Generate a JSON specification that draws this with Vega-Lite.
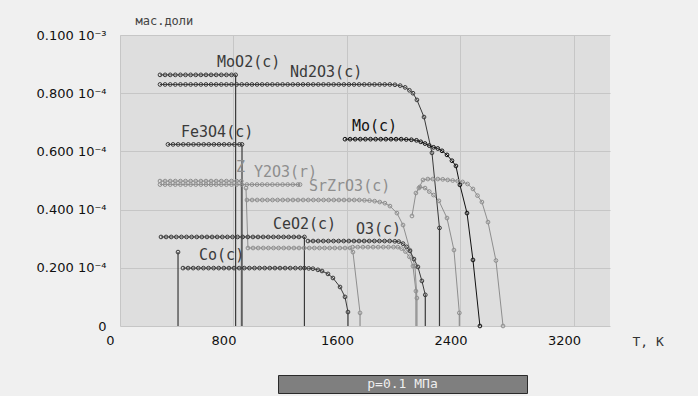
{
"$schema": "https://vega.github.io/schema/vega-lite/v6.json",
"background": "#f0f0f0",
"padding": {"left": 36, "top": 14, "right": 34, "bottom": 3},
"bounds": "flush",
"spacing": 49,
"config": {"font": "DejaVu Sans", "view": {"stroke": null}, "axis": {"domain": false, "ticks": false, "gridColor": "#c6c6c6", "gridWidth": 1, "labelColor": "#111111", "labelFontSize": 13}},
"datasets": {
"curves": [
{"s":"ZrO2(c)","T":282,"v":4.98},{"s":"ZrO2(c)","T":318,"v":4.98},{"s":"ZrO2(c)","T":354,"v":4.98},{"s":"ZrO2(c)","T":390,"v":4.98},{"s":"ZrO2(c)","T":426,"v":4.98},{"s":"ZrO2(c)","T":462,"v":4.98},{"s":"ZrO2(c)","T":498,"v":4.98},{"s":"ZrO2(c)","T":534,"v":4.98},{"s":"ZrO2(c)","T":570,"v":4.98},{"s":"ZrO2(c)","T":606,"v":4.98},{"s":"ZrO2(c)","T":642,"v":4.98},{"s":"ZrO2(c)","T":678,"v":4.98},{"s":"ZrO2(c)","T":714,"v":4.98},{"s":"ZrO2(c)","T":750,"v":4.98},{"s":"ZrO2(c)","T":786,"v":4.98},{"s":"ZrO2(c)","T":822,"v":4.98},{"s":"ZrO2(c)","T":855,"v":4.98},
{"s":"Y2O3(r)","T":282,"v":4.86},{"s":"Y2O3(r)","T":318,"v":4.86},{"s":"Y2O3(r)","T":354,"v":4.86},{"s":"Y2O3(r)","T":390,"v":4.86},{"s":"Y2O3(r)","T":426,"v":4.86},{"s":"Y2O3(r)","T":462,"v":4.86},{"s":"Y2O3(r)","T":498,"v":4.86},{"s":"Y2O3(r)","T":534,"v":4.86},{"s":"Y2O3(r)","T":570,"v":4.86},{"s":"Y2O3(r)","T":606,"v":4.86},{"s":"Y2O3(r)","T":642,"v":4.86},{"s":"Y2O3(r)","T":678,"v":4.86},{"s":"Y2O3(r)","T":714,"v":4.86},{"s":"Y2O3(r)","T":750,"v":4.86},{"s":"Y2O3(r)","T":786,"v":4.86},{"s":"Y2O3(r)","T":822,"v":4.86},{"s":"Y2O3(r)","T":858,"v":4.86},{"s":"Y2O3(r)","T":894,"v":4.86},{"s":"Y2O3(r)","T":930,"v":4.86},{"s":"Y2O3(r)","T":966,"v":4.86},{"s":"Y2O3(r)","T":1002,"v":4.86},{"s":"Y2O3(r)","T":1038,"v":4.86},{"s":"Y2O3(r)","T":1074,"v":4.86},{"s":"Y2O3(r)","T":1110,"v":4.86},{"s":"Y2O3(r)","T":1146,"v":4.86},{"s":"Y2O3(r)","T":1182,"v":4.86},{"s":"Y2O3(r)","T":1218,"v":4.86},{"s":"Y2O3(r)","T":1254,"v":4.86},{"s":"Y2O3(r)","T":1269,"v":4.86},
{"s":"SrZrO3(c)","T":895,"v":4.33},{"s":"SrZrO3(c)","T":931,"v":4.33},{"s":"SrZrO3(c)","T":967,"v":4.33},{"s":"SrZrO3(c)","T":1003,"v":4.33},{"s":"SrZrO3(c)","T":1039,"v":4.33},{"s":"SrZrO3(c)","T":1075,"v":4.33},{"s":"SrZrO3(c)","T":1111,"v":4.33},{"s":"SrZrO3(c)","T":1147,"v":4.33},{"s":"SrZrO3(c)","T":1183,"v":4.33},{"s":"SrZrO3(c)","T":1219,"v":4.33},{"s":"SrZrO3(c)","T":1255,"v":4.33},{"s":"SrZrO3(c)","T":1291,"v":4.33},{"s":"SrZrO3(c)","T":1327,"v":4.33},{"s":"SrZrO3(c)","T":1363,"v":4.33},{"s":"SrZrO3(c)","T":1399,"v":4.33},{"s":"SrZrO3(c)","T":1435,"v":4.33},{"s":"SrZrO3(c)","T":1471,"v":4.33},{"s":"SrZrO3(c)","T":1507,"v":4.33},{"s":"SrZrO3(c)","T":1543,"v":4.33},{"s":"SrZrO3(c)","T":1579,"v":4.33},{"s":"SrZrO3(c)","T":1615,"v":4.33},{"s":"SrZrO3(c)","T":1651,"v":4.33},{"s":"SrZrO3(c)","T":1687,"v":4.33},{"s":"SrZrO3(c)","T":1723,"v":4.32},{"s":"SrZrO3(c)","T":1759,"v":4.31},{"s":"SrZrO3(c)","T":1795,"v":4.29},{"s":"SrZrO3(c)","T":1831,"v":4.26},{"s":"SrZrO3(c)","T":1867,"v":4.22},{"s":"SrZrO3(c)","T":1903,"v":4.12},{"s":"SrZrO3(c)","T":1952,"v":3.88},{"s":"SrZrO3(c)","T":1995,"v":3.47},{"s":"SrZrO3(c)","T":2044,"v":2.61},{"s":"SrZrO3(c)","T":2079,"v":2.06},{"s":"SrZrO3(c)","T":2093,"v":0.96},
{"s":"g4","T":888,"v":4.74},{"s":"g4","T":902,"v":2.68},{"s":"g4","T":938,"v":2.68},{"s":"g4","T":974,"v":2.68},{"s":"g4","T":1010,"v":2.68},{"s":"g4","T":1046,"v":2.68},{"s":"g4","T":1082,"v":2.68},{"s":"g4","T":1118,"v":2.68},{"s":"g4","T":1154,"v":2.68},{"s":"g4","T":1190,"v":2.68},{"s":"g4","T":1226,"v":2.68},{"s":"g4","T":1262,"v":2.68},{"s":"g4","T":1298,"v":2.68},{"s":"g4","T":1334,"v":2.68},{"s":"g4","T":1370,"v":2.68},{"s":"g4","T":1406,"v":2.68},{"s":"g4","T":1442,"v":2.68},{"s":"g4","T":1478,"v":2.68},{"s":"g4","T":1514,"v":2.68},{"s":"g4","T":1550,"v":2.68},{"s":"g4","T":1586,"v":2.68},{"s":"g4","T":1622,"v":2.68},{"s":"g4","T":1642,"v":2.54},{"s":"g4","T":1692,"v":0.45},
{"s":"g5","T":1640,"v":2.71},{"s":"g5","T":1676,"v":2.71},{"s":"g5","T":1712,"v":2.71},{"s":"g5","T":1748,"v":2.71},{"s":"g5","T":1784,"v":2.71},{"s":"g5","T":1820,"v":2.71},{"s":"g5","T":1856,"v":2.71},{"s":"g5","T":1892,"v":2.71},{"s":"g5","T":1928,"v":2.71},{"s":"g5","T":1958,"v":2.71},{"s":"g5","T":1985,"v":2.66},{"s":"g5","T":2012,"v":2.56},{"s":"g5","T":2040,"v":2.38},{"s":"g5","T":2065,"v":2.06},{"s":"g5","T":2086,"v":1.2},
{"s":"g6","T":2107,"v":4.74},{"s":"g6","T":2136,"v":5.02},{"s":"g6","T":2170,"v":5.05},{"s":"g6","T":2205,"v":5.05},{"s":"g6","T":2240,"v":5.05},{"s":"g6","T":2275,"v":5.04},{"s":"g6","T":2310,"v":5.02},{"s":"g6","T":2345,"v":5.0},{"s":"g6","T":2380,"v":4.98},{"s":"g6","T":2415,"v":4.95},{"s":"g6","T":2450,"v":4.88},{"s":"g6","T":2488,"v":4.71},{"s":"g6","T":2520,"v":4.48},{"s":"g6","T":2551,"v":4.26},{"s":"g6","T":2594,"v":3.57},{"s":"g6","T":2650,"v":2.25},{"s":"g6","T":2700,"v":0.0},
{"s":"g7","T":2058,"v":3.78},{"s":"g7","T":2086,"v":4.57},{"s":"g7","T":2114,"v":4.78},{"s":"g7","T":2150,"v":4.74},{"s":"g7","T":2180,"v":4.62},{"s":"g7","T":2210,"v":4.5},{"s":"g7","T":2248,"v":4.3},{"s":"g7","T":2305,"v":3.71},{"s":"g7","T":2354,"v":2.61},{"s":"g7","T":2392,"v":0.45},
{"s":"MoO2(c)","T":282,"v":8.63},{"s":"MoO2(c)","T":318,"v":8.63},{"s":"MoO2(c)","T":354,"v":8.63},{"s":"MoO2(c)","T":390,"v":8.63},{"s":"MoO2(c)","T":426,"v":8.63},{"s":"MoO2(c)","T":462,"v":8.63},{"s":"MoO2(c)","T":498,"v":8.63},{"s":"MoO2(c)","T":534,"v":8.63},{"s":"MoO2(c)","T":570,"v":8.63},{"s":"MoO2(c)","T":606,"v":8.63},{"s":"MoO2(c)","T":642,"v":8.63},{"s":"MoO2(c)","T":678,"v":8.63},{"s":"MoO2(c)","T":714,"v":8.63},{"s":"MoO2(c)","T":750,"v":8.63},{"s":"MoO2(c)","T":786,"v":8.63},{"s":"MoO2(c)","T":815,"v":8.63},
{"s":"Nd2O3(c)","T":282,"v":8.3},{"s":"Nd2O3(c)","T":318,"v":8.3},{"s":"Nd2O3(c)","T":354,"v":8.3},{"s":"Nd2O3(c)","T":390,"v":8.3},{"s":"Nd2O3(c)","T":426,"v":8.3},{"s":"Nd2O3(c)","T":462,"v":8.3},{"s":"Nd2O3(c)","T":498,"v":8.3},{"s":"Nd2O3(c)","T":534,"v":8.3},{"s":"Nd2O3(c)","T":570,"v":8.3},{"s":"Nd2O3(c)","T":606,"v":8.3},{"s":"Nd2O3(c)","T":642,"v":8.3},{"s":"Nd2O3(c)","T":678,"v":8.3},{"s":"Nd2O3(c)","T":714,"v":8.3},{"s":"Nd2O3(c)","T":750,"v":8.3},{"s":"Nd2O3(c)","T":786,"v":8.3},{"s":"Nd2O3(c)","T":822,"v":8.3},{"s":"Nd2O3(c)","T":858,"v":8.3},{"s":"Nd2O3(c)","T":894,"v":8.3},{"s":"Nd2O3(c)","T":930,"v":8.3},{"s":"Nd2O3(c)","T":966,"v":8.3},{"s":"Nd2O3(c)","T":1002,"v":8.3},{"s":"Nd2O3(c)","T":1038,"v":8.3},{"s":"Nd2O3(c)","T":1074,"v":8.3},{"s":"Nd2O3(c)","T":1110,"v":8.3},{"s":"Nd2O3(c)","T":1146,"v":8.3},{"s":"Nd2O3(c)","T":1182,"v":8.3},{"s":"Nd2O3(c)","T":1218,"v":8.3},{"s":"Nd2O3(c)","T":1254,"v":8.3},{"s":"Nd2O3(c)","T":1290,"v":8.3},{"s":"Nd2O3(c)","T":1326,"v":8.3},{"s":"Nd2O3(c)","T":1362,"v":8.3},{"s":"Nd2O3(c)","T":1398,"v":8.3},{"s":"Nd2O3(c)","T":1434,"v":8.3},{"s":"Nd2O3(c)","T":1470,"v":8.3},{"s":"Nd2O3(c)","T":1506,"v":8.3},{"s":"Nd2O3(c)","T":1542,"v":8.3},{"s":"Nd2O3(c)","T":1578,"v":8.3},{"s":"Nd2O3(c)","T":1614,"v":8.3},{"s":"Nd2O3(c)","T":1650,"v":8.3},{"s":"Nd2O3(c)","T":1686,"v":8.3},{"s":"Nd2O3(c)","T":1722,"v":8.3},{"s":"Nd2O3(c)","T":1758,"v":8.3},{"s":"Nd2O3(c)","T":1794,"v":8.3},{"s":"Nd2O3(c)","T":1830,"v":8.3},{"s":"Nd2O3(c)","T":1866,"v":8.3},{"s":"Nd2O3(c)","T":1902,"v":8.3},{"s":"Nd2O3(c)","T":1938,"v":8.29},{"s":"Nd2O3(c)","T":1975,"v":8.26},{"s":"Nd2O3(c)","T":2010,"v":8.2},{"s":"Nd2O3(c)","T":2040,"v":8.1},{"s":"Nd2O3(c)","T":2065,"v":8.0},{"s":"Nd2O3(c)","T":2093,"v":7.77},{"s":"Nd2O3(c)","T":2143,"v":7.18},{"s":"Nd2O3(c)","T":2199,"v":5.95},{"s":"Nd2O3(c)","T":2252,"v":3.37},
{"s":"Fe3O4(c)","T":338,"v":6.24},{"s":"Fe3O4(c)","T":374,"v":6.24},{"s":"Fe3O4(c)","T":410,"v":6.24},{"s":"Fe3O4(c)","T":446,"v":6.24},{"s":"Fe3O4(c)","T":482,"v":6.24},{"s":"Fe3O4(c)","T":518,"v":6.24},{"s":"Fe3O4(c)","T":554,"v":6.24},{"s":"Fe3O4(c)","T":590,"v":6.24},{"s":"Fe3O4(c)","T":626,"v":6.24},{"s":"Fe3O4(c)","T":662,"v":6.24},{"s":"Fe3O4(c)","T":698,"v":6.24},{"s":"Fe3O4(c)","T":734,"v":6.24},{"s":"Fe3O4(c)","T":770,"v":6.24},{"s":"Fe3O4(c)","T":806,"v":6.24},{"s":"Fe3O4(c)","T":842,"v":6.24},{"s":"Fe3O4(c)","T":860,"v":6.24},
{"s":"Mo(c)","T":1586,"v":6.42},{"s":"Mo(c)","T":1622,"v":6.42},{"s":"Mo(c)","T":1658,"v":6.42},{"s":"Mo(c)","T":1694,"v":6.42},{"s":"Mo(c)","T":1730,"v":6.42},{"s":"Mo(c)","T":1766,"v":6.42},{"s":"Mo(c)","T":1802,"v":6.42},{"s":"Mo(c)","T":1838,"v":6.42},{"s":"Mo(c)","T":1874,"v":6.42},{"s":"Mo(c)","T":1910,"v":6.42},{"s":"Mo(c)","T":1946,"v":6.42},{"s":"Mo(c)","T":1982,"v":6.42},{"s":"Mo(c)","T":2018,"v":6.41},{"s":"Mo(c)","T":2054,"v":6.4},{"s":"Mo(c)","T":2090,"v":6.38},{"s":"Mo(c)","T":2120,"v":6.33},{"s":"Mo(c)","T":2150,"v":6.27},{"s":"Mo(c)","T":2180,"v":6.2},{"s":"Mo(c)","T":2210,"v":6.14},{"s":"Mo(c)","T":2240,"v":6.1},{"s":"Mo(c)","T":2270,"v":6.02},{"s":"Mo(c)","T":2305,"v":5.88},{"s":"Mo(c)","T":2340,"v":5.68},{"s":"Mo(c)","T":2368,"v":5.5},{"s":"Mo(c)","T":2396,"v":4.85},{"s":"Mo(c)","T":2446,"v":3.88},{"s":"Mo(c)","T":2488,"v":2.27},{"s":"Mo(c)","T":2537,"v":0.0},
{"s":"CeO2(c)","T":289,"v":3.06},{"s":"CeO2(c)","T":325,"v":3.06},{"s":"CeO2(c)","T":361,"v":3.06},{"s":"CeO2(c)","T":397,"v":3.06},{"s":"CeO2(c)","T":433,"v":3.06},{"s":"CeO2(c)","T":469,"v":3.06},{"s":"CeO2(c)","T":505,"v":3.06},{"s":"CeO2(c)","T":541,"v":3.06},{"s":"CeO2(c)","T":577,"v":3.06},{"s":"CeO2(c)","T":613,"v":3.06},{"s":"CeO2(c)","T":649,"v":3.06},{"s":"CeO2(c)","T":685,"v":3.06},{"s":"CeO2(c)","T":721,"v":3.06},{"s":"CeO2(c)","T":757,"v":3.06},{"s":"CeO2(c)","T":793,"v":3.06},{"s":"CeO2(c)","T":829,"v":3.06},{"s":"CeO2(c)","T":865,"v":3.06},{"s":"CeO2(c)","T":901,"v":3.06},{"s":"CeO2(c)","T":937,"v":3.06},{"s":"CeO2(c)","T":973,"v":3.06},{"s":"CeO2(c)","T":1009,"v":3.06},{"s":"CeO2(c)","T":1045,"v":3.06},{"s":"CeO2(c)","T":1081,"v":3.06},{"s":"CeO2(c)","T":1117,"v":3.06},{"s":"CeO2(c)","T":1153,"v":3.06},{"s":"CeO2(c)","T":1189,"v":3.06},{"s":"CeO2(c)","T":1225,"v":3.06},{"s":"CeO2(c)","T":1261,"v":3.06},{"s":"CeO2(c)","T":1300,"v":3.06},
{"s":"O3(c)","T":1325,"v":2.92},{"s":"O3(c)","T":1361,"v":2.92},{"s":"O3(c)","T":1397,"v":2.92},{"s":"O3(c)","T":1433,"v":2.92},{"s":"O3(c)","T":1469,"v":2.92},{"s":"O3(c)","T":1505,"v":2.92},{"s":"O3(c)","T":1541,"v":2.92},{"s":"O3(c)","T":1577,"v":2.92},{"s":"O3(c)","T":1613,"v":2.92},{"s":"O3(c)","T":1649,"v":2.92},{"s":"O3(c)","T":1685,"v":2.92},{"s":"O3(c)","T":1721,"v":2.92},{"s":"O3(c)","T":1757,"v":2.92},{"s":"O3(c)","T":1793,"v":2.92},{"s":"O3(c)","T":1829,"v":2.92},{"s":"O3(c)","T":1865,"v":2.92},{"s":"O3(c)","T":1901,"v":2.92},{"s":"O3(c)","T":1937,"v":2.91},{"s":"O3(c)","T":1965,"v":2.9},{"s":"O3(c)","T":1995,"v":2.83},{"s":"O3(c)","T":2020,"v":2.72},{"s":"O3(c)","T":2044,"v":2.58},{"s":"O3(c)","T":2072,"v":2.3},{"s":"O3(c)","T":2100,"v":2.03},{"s":"O3(c)","T":2128,"v":1.55},{"s":"O3(c)","T":2152,"v":1.07},
{"s":"Co(c)","T":444,"v":1.99},{"s":"Co(c)","T":480,"v":1.99},{"s":"Co(c)","T":516,"v":1.99},{"s":"Co(c)","T":552,"v":1.99},{"s":"Co(c)","T":588,"v":1.99},{"s":"Co(c)","T":624,"v":1.99},{"s":"Co(c)","T":660,"v":1.99},{"s":"Co(c)","T":696,"v":1.99},{"s":"Co(c)","T":732,"v":1.99},{"s":"Co(c)","T":768,"v":1.99},{"s":"Co(c)","T":804,"v":1.99},{"s":"Co(c)","T":840,"v":1.99},{"s":"Co(c)","T":876,"v":1.99},{"s":"Co(c)","T":912,"v":1.99},{"s":"Co(c)","T":948,"v":1.99},{"s":"Co(c)","T":984,"v":1.99},{"s":"Co(c)","T":1020,"v":1.99},{"s":"Co(c)","T":1056,"v":1.99},{"s":"Co(c)","T":1092,"v":1.99},{"s":"Co(c)","T":1128,"v":1.99},{"s":"Co(c)","T":1164,"v":1.99},{"s":"Co(c)","T":1200,"v":1.99},{"s":"Co(c)","T":1236,"v":1.99},{"s":"Co(c)","T":1272,"v":1.99},{"s":"Co(c)","T":1300,"v":1.99},{"s":"Co(c)","T":1330,"v":1.98},{"s":"Co(c)","T":1360,"v":1.97},{"s":"Co(c)","T":1395,"v":1.93},{"s":"Co(c)","T":1424,"v":1.89},{"s":"Co(c)","T":1466,"v":1.79},{"s":"Co(c)","T":1501,"v":1.65},{"s":"Co(c)","T":1551,"v":1.34},{"s":"Co(c)","T":1586,"v":1.0},{"s":"Co(c)","T":1607,"v":0.48},
{"s":"c0","T":409,"v":2.54}
],
"drops": [
{"s":"ZrO2(c)","T":855,"v":4.98},{"s":"ZrO2(c)","T":855,"v":0},
{"s":"SrZrO3(c)","T":2093,"v":0.96},{"s":"SrZrO3(c)","T":2093,"v":0},
{"s":"g4","T":1692,"v":0.45},{"s":"g4","T":1692,"v":0},
{"s":"g5","T":2086,"v":1.2},{"s":"g5","T":2086,"v":0},
{"s":"g7","T":2392,"v":0.45},{"s":"g7","T":2392,"v":0},
{"s":"MoO2(c)","T":815,"v":8.63},{"s":"MoO2(c)","T":815,"v":0},
{"s":"Nd2O3(c)","T":2252,"v":3.37},{"s":"Nd2O3(c)","T":2252,"v":0},
{"s":"Fe3O4(c)","T":860,"v":6.24},{"s":"Fe3O4(c)","T":860,"v":0},
{"s":"CeO2(c)","T":1300,"v":3.06},{"s":"CeO2(c)","T":1300,"v":0},
{"s":"O3(c)","T":2152,"v":1.07},{"s":"O3(c)","T":2152,"v":0},
{"s":"Co(c)","T":1607,"v":0.48},{"s":"Co(c)","T":1607,"v":0},
{"s":"c0","T":409,"v":2.54},{"s":"c0","T":409,"v":0}
],
"labels": [
{"s":"MoO2(c)","label":"MoO2(c)","T":684,"v":9.07},
{"s":"Nd2O3(c)","label":"Nd2O3(c)","T":1198,"v":8.73},
{"s":"Fe3O4(c)","label":"Fe3O4(c)","T":430,"v":6.67},
{"s":"Mo(c)","label":"Mo(c)","T":1635,"v":6.87},
{"s":"ZrO2(c)","label":"Z","T":818,"v":5.46},
{"s":"Y2O3(r)","label":"Y2O3(r)","T":944,"v":5.29},
{"s":"SrZrO3(c)","label":"SrZrO3(c)","T":1332,"v":4.81},
{"s":"CeO2(c)","label":"CeO2(c)","T":1078,"v":3.51},
{"s":"O3(c)","label":"O3(c)","T":1663,"v":3.33},
{"s":"Co(c)","label":"Co(c)","T":557,"v":2.44}
]
},
"vconcat": [
{
"width": 490, "height": 291,
"view": {"fill": "#dedede", "stroke": null},
"encoding": {
"x": {"field": "T", "type": "quantitative", "scale": {"domain": [0, 3454], "nice": false, "zero": false},
"axis": {"values": [0, 800, 1600, 2400, 3200], "format": "d", "grid": true, "labelOffset": -10, "labelPadding": 8, "labelFlush": false, "title": "T, K", "titleX": 512, "titleY": 15, "titleAlign": "left", "titleBaseline": "middle", "titleAnchor": null, "titleFont": "DejaVu Sans Mono", "titleFontSize": 13, "titleFontWeight": "normal", "titleColor": "#333333"}},
"y": {"field": "v", "type": "quantitative", "scale": {"domain": [0, 10], "nice": false, "zero": true},
"axis": {"values": [0, 2, 4, 6, 8, 10], "grid": true, "labelPadding": 14, "labelFlush": false, "labelExpr": "datum.value == 10 ? '0.100 10⁻³' : datum.value == 0 ? '0' : '0.' + datum.value + '00 10⁻⁴'", "title": "мас.доли", "titleAngle": 0, "titleX": 15, "titleY": -15, "titleAlign": "left", "titleBaseline": "middle", "titleAnchor": null, "titleFont": "DejaVu Sans Mono", "titleFontSize": 12, "titleFontWeight": "normal", "titleColor": "#444444"}},
"color": {"field": "s", "type": "nominal", "legend": null,
"scale": {"domain": ["ZrO2(c)","Y2O3(r)","SrZrO3(c)","g4","g5","g6","g7","MoO2(c)","Nd2O3(c)","Fe3O4(c)","Mo(c)","CeO2(c)","O3(c)","Co(c)","c0"],
"range": ["#8e8e8e","#8e8e8e","#8e8e8e","#8e8e8e","#8e8e8e","#8e8e8e","#8e8e8e","#3a3a3a","#3a3a3a","#3a3a3a","#111111","#3a3a3a","#3a3a3a","#3a3a3a","#3a3a3a"]}}
},
"layer": [
{"data": {"name": "drops"}, "mark": {"type": "line", "strokeWidth": 1.2, "clip": false}, "encoding": {"detail": {"field": "s"}}},
{"data": {"name": "curves"}, "mark": {"type": "line", "strokeWidth": 1, "clip": false, "point": {"filled": false, "size": 14, "strokeWidth": 1}}, "encoding": {"detail": {"field": "s"}}},
{"data": {"name": "labels"}, "mark": {"type": "text", "align": "left", "baseline": "middle", "font": "DejaVu Sans Mono", "fontSize": 15}, "encoding": {"text": {"field": "label"}}}
]
},
{
"bounds": "flush",
"spacing": 0,
"hconcat": [
{"width": 158, "height": 18, "data": {"values": []}, "mark": "point", "view": {"stroke": null}},
{"width": 249, "height": 18, "data": {"values": [{"p": "p=0.1 МПа"}]}, "view": {"fill": "#7f7f7f", "stroke": "#2a2a2a"}, "mark": {"type": "text", "color": "#eeeeee", "font": "DejaVu Sans Mono", "fontSize": 13}, "encoding": {"text": {"field": "p"}}}
]
}
]
}
